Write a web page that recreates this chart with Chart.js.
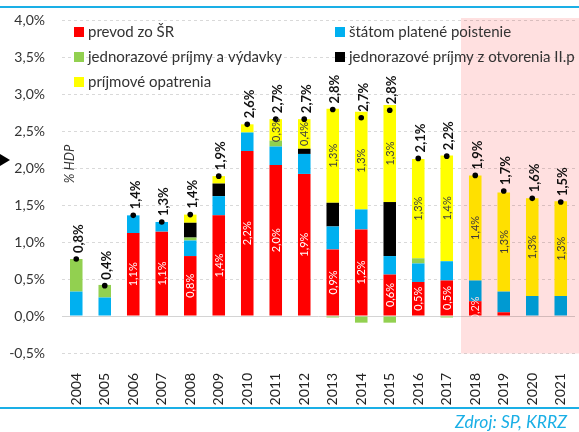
<!DOCTYPE html>
<html><head><meta charset="utf-8">
<script src="https://cdn.jsdelivr.net/npm/chart.js@4/dist/chart.umd.min.js"></script>
<style>html,body{margin:0;padding:0;background:#fff;}#wrap{width:579px;height:432px;position:relative;}</style>
</head><body><div id="wrap"><canvas id="c" width="579" height="432"></canvas></div>
<script>
const years = ['2004','2005','2006','2007','2008','2009','2010','2011','2012','2013','2014','2015','2016','2017','2018','2019','2020','2021'];
const prevodZoSR       = [0, 0, 1.12, 1.14, 0.81, 1.36, 2.23, 2.04, 1.92, 0.90, 1.17, 0.56, 0.46, 0.48, 0.20, 0.05, 0, 0];
const statomPlatene    = [0.33, 0.25, 0.24, 0.13, 0.21, 0.26, 0.25, 0.25, 0.27, 0.31, 0.27, 0.25, 0.25, 0.26, 0.28, 0.28, 0.27, 0.27];
const jednorazove      = [0.44, 0.17, 0, 0, 0.04, 0, 0, 0.08, 0, -0.02, -0.09, -0.09, 0.07, -0.02, 0, 0, 0, 0];
const jednorazoveIIp   = [0, 0, 0, 0, 0.20, 0.17, 0, 0, 0.07, 0.32, 0, 0.73, 0, 0, 0, 0, 0, 0];
const prijmoveOpatrenia= [0, 0, 0, 0, 0.11, 0.10, 0.11, 0.29, 0.40, 1.27, 1.32, 1.31, 1.34, 1.43, 1.42, 1.34, 1.32, 1.28];
const spolu            = [0.77, 0.41, 1.36, 1.27, 1.37, 1.89, 2.59, 2.66, 2.66, 2.79, 2.68, 2.78, 2.13, 2.16, 1.90, 1.69, 1.59, 1.54];
const yTicks = [-0.5, 0, 0.5, 1, 1.5, 2, 2.5, 3, 3.5, 4];
const prognozaOd = '2018';

const FONT = 'Lato, "Liberation Sans", sans-serif';
const fmt = v => v.toFixed(1).replace('.', ',') + '%';

const decor = {
  id: 'decor',
  beforeDraw(chart) {
    const ctx = chart.ctx;
    ctx.save(); ctx.fillStyle = '#fff'; ctx.fillRect(0, 0, chart.width, chart.height); ctx.restore();
  },
  beforeDatasetsDraw(chart) {
    const ctx = chart.ctx, y = chart.scales.y, a = chart.chartArea;
    const y0 = Math.round(y.getPixelForValue(0)) + 0.5;
    ctx.save(); ctx.strokeStyle = '#d4d4d4'; ctx.lineWidth = 1;
    ctx.beginPath(); ctx.moveTo(a.left, y0); ctx.lineTo(a.right, y0); ctx.stroke(); ctx.restore();
  },
  afterDatasetsDraw(chart) {
    const ctx = chart.ctx, a = chart.chartArea, xs = chart.scales.x;
    const segs = [{ds: 0, min: 0.15, color: '#ffffff'}, {ds: 4, min: 0.25, color: '#404040'}];
    segs.forEach(s => {
      const meta = chart.getDatasetMeta(s.ds);
      const vals = chart.data.datasets[s.ds].data;
      meta.data.forEach((el, i) => {
        const v = vals[i];
        if (v < s.min) return;
        const cy = (el.y + el.base) / 2;
        ctx.save(); ctx.translate(el.x, cy); ctx.rotate(-Math.PI / 2);
        ctx.font = '11px ' + FONT; ctx.fillStyle = s.color;
        ctx.textAlign = 'center'; ctx.textBaseline = 'middle';
        ctx.fillText(fmt(v), 0, 0.5); ctx.restore();
      });
    });
    const tm = chart.getDatasetMeta(5);
    tm.data.forEach((p, i) => {
      ctx.save(); ctx.translate(p.x + 2.5, p.y - 6); ctx.rotate(-Math.PI / 2);
      ctx.font = 'bold 13px ' + FONT; ctx.fillStyle = '#111';
      ctx.textAlign = 'left'; ctx.textBaseline = 'middle';
      ctx.fillText(fmt(spolu[i]), 0, 0); ctx.restore();
    });
    const idx = years.indexOf(prognozaOd);
    const xl = (xs.getPixelForValue(idx - 1) + xs.getPixelForValue(idx)) / 2;
    ctx.save(); ctx.globalCompositeOperation = 'multiply'; ctx.fillStyle = 'rgb(255,224,224)';
    ctx.fillRect(Math.round(xl), a.top - 2, chart.width - Math.round(xl), a.bottom - a.top + 2.5); ctx.restore();
  },
  afterDraw(chart) {
    const ctx = chart.ctx;
    const items = chart.data.datasets.slice(0, 5);
    const pos = [[74, 32], [335, 32], [74, 57], [335, 57], [74, 82]];
    items.forEach((d, i) => {
      const [bx, by] = pos[i];
      ctx.save(); ctx.fillStyle = d.backgroundColor; ctx.fillRect(bx, by - 5, 10, 10);
      ctx.font = '15px ' + FONT; ctx.fillStyle = '#333'; ctx.textAlign = 'left'; ctx.textBaseline = 'middle';
      ctx.fillText(d.label, bx + 14, by); ctx.restore();
    });
    ctx.save(); ctx.translate(70, 164); ctx.rotate(-Math.PI / 2);
    ctx.font = 'italic 13px ' + FONT; ctx.fillStyle = '#333'; ctx.textAlign = 'center'; ctx.textBaseline = 'middle';
    ctx.fillText('% HDP', 0, 0); ctx.restore();
    ctx.save(); ctx.fillStyle = '#000'; ctx.beginPath(); ctx.moveTo(0, 154); ctx.lineTo(10, 160); ctx.lineTo(0, 166); ctx.closePath(); ctx.fill(); ctx.restore();
    ctx.save(); ctx.fillStyle = '#1AAFE6';
    ctx.fillRect(0, 6, chart.width, 2); ctx.fillRect(0, 407, chart.width, 2); ctx.restore();
    ctx.save(); ctx.font = 'italic 17.5px ' + FONT; ctx.fillStyle = '#1AAFE6'; ctx.textAlign = 'right'; ctx.textBaseline = 'middle';
    ctx.fillText('Zdroj: SP, KRRZ', 567, 422); ctx.restore();
  }
};

const barDs = (label, data, color) => ({
  type: 'bar', label, data, backgroundColor: color, borderWidth: 0, stack: 'main', order: 1,
  barPercentage: 0.44, categoryPercentage: 1
});

new Chart(document.getElementById('c'), {
  data: {
    labels: years,
    datasets: [
      barDs('prevod zo ŠR', prevodZoSR, '#FF0000'),
      barDs('štátom platené poistenie', statomPlatene, '#00B0F0'),
      barDs('jednorazové príjmy a výdavky', jednorazove, '#92D050'),
      barDs('jednorazové príjmy z otvorenia II.p', jednorazoveIIp, '#000000'),
      barDs('príjmové opatrenia', prijmoveOpatrenia, '#FFFF00'),
      { type: 'line', label: 'spolu', data: spolu, showLine: false, pointRadius: 2.8, pointBackgroundColor: '#000',
        pointBorderWidth: 0, stack: 'tot', order: 0 }
    ]
  },
  options: {
    responsive: false, animation: false, devicePixelRatio: 1,
    layout: { padding: { top: 20, right: 0, bottom: 0, left: 0 } },
    plugins: { legend: { display: false }, tooltip: { enabled: false } },
    scales: {
      x: {
        stacked: true, grid: { display: false }, border: { display: false },
        ticks: { minRotation: 90, maxRotation: 90, autoSkip: false, padding: 12, color: '#222', font: { family: FONT, size: 14 } },
        afterFit(s) { s.height = 79; s.paddingLeft = 0; s.paddingRight = 0; }
      },
      y: {
        stacked: true, min: -0.5, max: 4,
        afterBuildTicks(s) { s.ticks = yTicks.map(v => ({ value: v })); },
        ticks: { callback: v => fmt(v), color: '#333', padding: 17, font: { family: FONT, size: 14 } },
        grid: { color: '#d9d9d9', drawTicks: false, lineWidth: 1 },
        border: { display: false, dash: [3, 3] },
        afterFit(s) { s.width = 62; s.paddingTop = 0; s.paddingBottom = 0; }
      }
    }
  },
  plugins: [decor]
});
</script></body></html>
